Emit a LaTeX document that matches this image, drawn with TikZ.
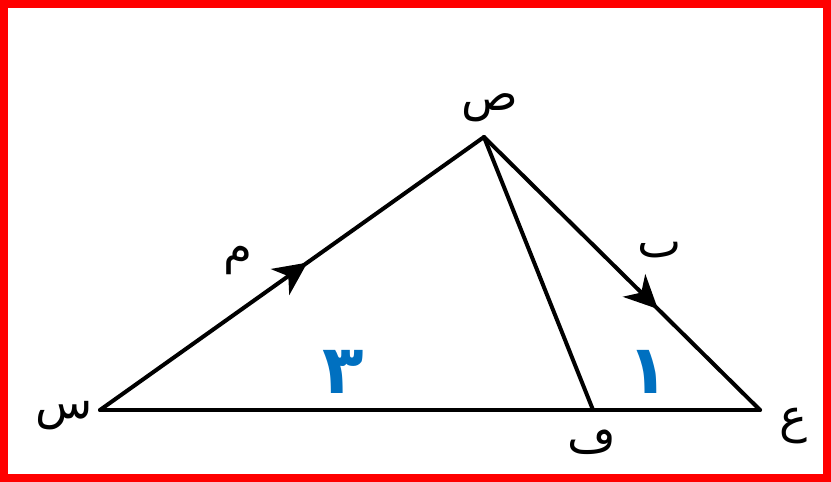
\documentclass[tikz,border=0pt]{standalone}
\usepackage{fontspec}
\newfontfamily\arabicfont[Script=Arabic]{DejaVu Sans}
\TeXXeTstate=1
\usetikzlibrary{arrows.meta, decorations.markings}
\definecolor{numblue}{HTML}{0070C0}
\tikzset{
  side/.style={line width=0.12cm, line cap=round},
  midarrow/.style={postaction={decorate}, decoration={markings,
      mark=at position #1 with {\arrow{Stealth[length=1.0cm, width=0.95cm, inset=0.3cm]}}}},
  vlabel/.style={font=\arabicfont\fontsize{40}{46}\selectfont},
  seglabel/.style={font=\arabicfont\bfseries\fontsize{58}{64}\selectfont, text=numblue}
}

\begin{document}
\begin{tikzpicture}[x=0.03cm, y=-0.03cm]
    \useasboundingbox (0,0) rectangle (831,482);
    \draw[red, line width=0.24cm] (4,4) rectangle (827,478);
    % vertices
    \coordinate (S) at (100,410);
    \coordinate (P) at (484,137);
    \coordinate (E) at (760,410);
    \coordinate (F) at (593,410);
    % sides
    \draw[side, midarrow=0.54] (S) -- (P);
    \draw[side, midarrow=0.63] (P) -- (E);
    \draw[side] (S) -- (E);
    \draw[side] (P) -- (F);
    % labels
    \node[vlabel] (sLab) at (64,416) {\beginR س\endR};
    \node[vlabel] (pLab) at (490,108) {\beginR ص\endR};
    \node[vlabel] (eLab) at (793,426) {\beginR ع\endR};
    \node[vlabel] (fLab) at (592,442) {\beginR ڡ\endR};
    \node[vlabel] (mLab) at (238,260) {\beginR م\endR};
    \node[vlabel] (nLab) at (660,250) {\beginR ٮ\endR};
    \node[seglabel] (three) at (343,372) {\beginR ٣\endR};
    \node[seglabel] (one) at (648,372) {\beginR ١\endR};
  \end{tikzpicture}
\end{document}
